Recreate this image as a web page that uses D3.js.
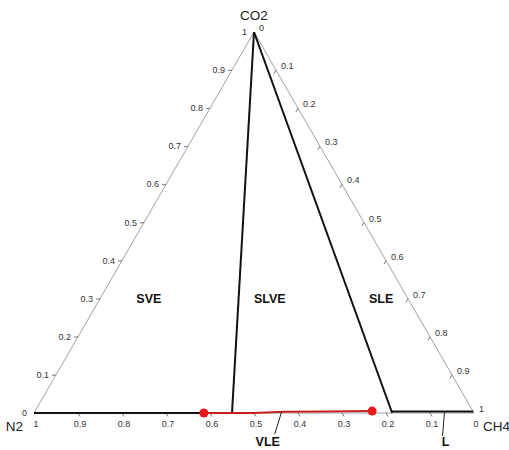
<!DOCTYPE html>
<html>
<head>
<meta charset="utf-8">
<script src="https://cdn.jsdelivr.net/npm/d3@7"></script>
<style>
body { margin: 0; background: #fff; }
text { font-family: Arial, "Liberation Sans", sans-serif; }
</style>
</head>
<body>
<script>
// tick values along each edge
var ticks = [0, 0.1, 0.2, 0.3, 0.4, 0.5, 0.6, 0.7, 0.8, 0.9, 1];
var tickLabels = ["0", "0.1", "0.2", "0.3", "0.4", "0.5", "0.6", "0.7", "0.8", "0.9", "1"];

// phase boundaries, as [CO2, N2] mole fractions (CH4 = rest)
var slveTriangle = [[1, 0], [0, 0.55], [1, 0], [0, 0.186]];
var sveEdge = [[0, 1], [0, 0.55]];
var lEdge = [[0.004, 0.186], [0.004, 0]];
var vleLine = [[0, 0.614], [0, 0.5], [0.003, 0.43], [0.004, 0.33], [0.005, 0.229]];
var vleDots = [[0, 0.614], [0.005, 0.229]];

// region labels [CO2, N2, text]
var regions = [[0.29, 0.594, "SVE"], [0.29, 0.319, "SLVE"], [0.29, 0.066, "SLE"]];

var width = 509, height = 450;
var s3 = Math.sqrt(3) / 2;

// set the ranges
var x = d3.scaleLinear().domain([0, 1]).range([34, 474]);
var y = d3.scaleLinear().domain([0, s3]).range([413, 32]);

// ternary -> screen
function px(a, b) { var c = 1 - a - b; return x(c + a / 2); }
function py(a, b) { return y(a * s3); }

var line = d3.line()
    .x(function (d) { return px(d[0], d[1]); })
    .y(function (d) { return py(d[0], d[1]); });

var svg = d3.select("body").append("svg")
    .attr("width", width)
    .attr("height", height);

// outer triangle
svg.append("path")
    .attr("d", line([[1, 0], [0, 1], [0, 0], [1, 0]]))
    .attr("fill", "none")
    .attr("stroke", "#8a8a8a")
    .attr("stroke-width", 0.8);

var tickG = svg.append("g").attr("font-size", 9).attr("fill", "#333");

// left edge: CO2 (0 bottom, 1 top)
ticks.forEach(function (t, i) {
    var X = px(t, 1 - t), Y = py(t, 1 - t);
    if (i > 0 && i < 10)
        tickG.append("line").attr("x1", X).attr("y1", Y).attr("x2", X - 4).attr("y2", Y + 0.5)
            .attr("stroke", "#555").attr("stroke-width", 0.8);
    tickG.append("text").attr("x", X - 7).attr("y", Y + 3)
        .attr("text-anchor", "end").text(tickLabels[i]);
});

// right edge: CH4 (0 top, 1 bottom)
ticks.forEach(function (t, i) {
    var X = px(1 - t, 0), Y = py(1 - t, 0);
    if (i > 0 && i < 10)
        tickG.append("line").attr("x1", X).attr("y1", Y).attr("x2", X - 2).attr("y2", Y + 3.5)
            .attr("stroke", "#555").attr("stroke-width", 0.8);
    tickG.append("text").attr("x", X + 5).attr("y", Y - 1)
        .attr("text-anchor", "start").text(tickLabels[i]);
});

// bottom edge: N2 (1 left, 0 right)
ticks.forEach(function (t, i) {
    var X = px(0, t), Y = py(0, t);
    if (i > 0 && i < 10)
        tickG.append("line").attr("x1", X).attr("y1", Y).attr("x2", X + 2).attr("y2", Y + 3.5)
            .attr("stroke", "#555").attr("stroke-width", 0.8);
    tickG.append("text").attr("x", X + 2).attr("y", Y + 14)
        .attr("text-anchor", "middle").text(tickLabels[i]);
});

// vertex names
svg.append("text").attr("x", px(1, 0)).attr("y", 20).attr("text-anchor", "middle")
    .attr("font-size", 13.5).attr("fill", "#222").text("CO2");
svg.append("text").attr("x", px(0, 1) - 11).attr("y", py(0, 1) + 18).attr("text-anchor", "end")
    .attr("font-size", 13.5).attr("fill", "#222").text("N2");
svg.append("text").attr("x", px(0, 0) + 9).attr("y", py(0, 0) + 18).attr("text-anchor", "start")
    .attr("font-size", 13.5).attr("fill", "#222").text("CH4");

// phase boundaries
svg.append("path").attr("d", line(sveEdge)).attr("fill", "none")
    .attr("stroke", "#111").attr("stroke-width", 2);
svg.append("path").attr("d", line(lEdge)).attr("fill", "none")
    .attr("stroke", "#111").attr("stroke-width", 1.8);
svg.append("path").attr("d", line(slveTriangle.slice(0, 2))).attr("fill", "none")
    .attr("stroke", "#111").attr("stroke-width", 2);
svg.append("path").attr("d", line(slveTriangle.slice(2, 4))).attr("fill", "none")
    .attr("stroke", "#111").attr("stroke-width", 2);

// VLE line + points
svg.append("path").attr("d", line(vleLine)).attr("fill", "none")
    .attr("stroke", "#c8201e").attr("stroke-width", 2);
svg.selectAll(".dot").data(vleDots).enter().append("circle")
    .attr("cx", function (d) { return px(d[0], d[1]); })
    .attr("cy", function (d) { return py(d[0], d[1]); })
    .attr("r", 4.5)
    .attr("fill", "#e8191b");

// region labels
svg.selectAll(".reg").data(regions).enter().append("text")
    .attr("x", function (d) { return px(d[0], d[1]); })
    .attr("y", function (d) { return py(d[0], d[1]); })
    .attr("text-anchor", "middle")
    .attr("font-size", 12.5).attr("font-weight", "bold").attr("fill", "#111")
    .text(function (d) { return d[2]; });

// VLE and L callouts
var vleAt = [0.004, 0.435], lAt = [0.004, 0.065];
svg.append("line").attr("x1", px(vleAt[0], vleAt[1])).attr("y1", py(vleAt[0], vleAt[1]))
    .attr("x2", px(vleAt[0], vleAt[1]) - 7).attr("y2", 434).attr("stroke", "#222").attr("stroke-width", 1);
svg.append("text").attr("x", px(vleAt[0], vleAt[1]) - 14).attr("y", 446).attr("text-anchor", "middle")
    .attr("font-size", 12.5).attr("font-weight", "bold").attr("fill", "#111").text("VLE");
svg.append("line").attr("x1", px(lAt[0], lAt[1])).attr("y1", py(lAt[0], lAt[1]))
    .attr("x2", px(lAt[0], lAt[1]) - 2).attr("y2", 436).attr("stroke", "#222").attr("stroke-width", 1);
svg.append("text").attr("x", px(lAt[0], lAt[1]) + 1).attr("y", 446).attr("text-anchor", "middle")
    .attr("font-size", 12.5).attr("font-weight", "bold").attr("fill", "#111").text("L");
</script>
</body>
</html>
